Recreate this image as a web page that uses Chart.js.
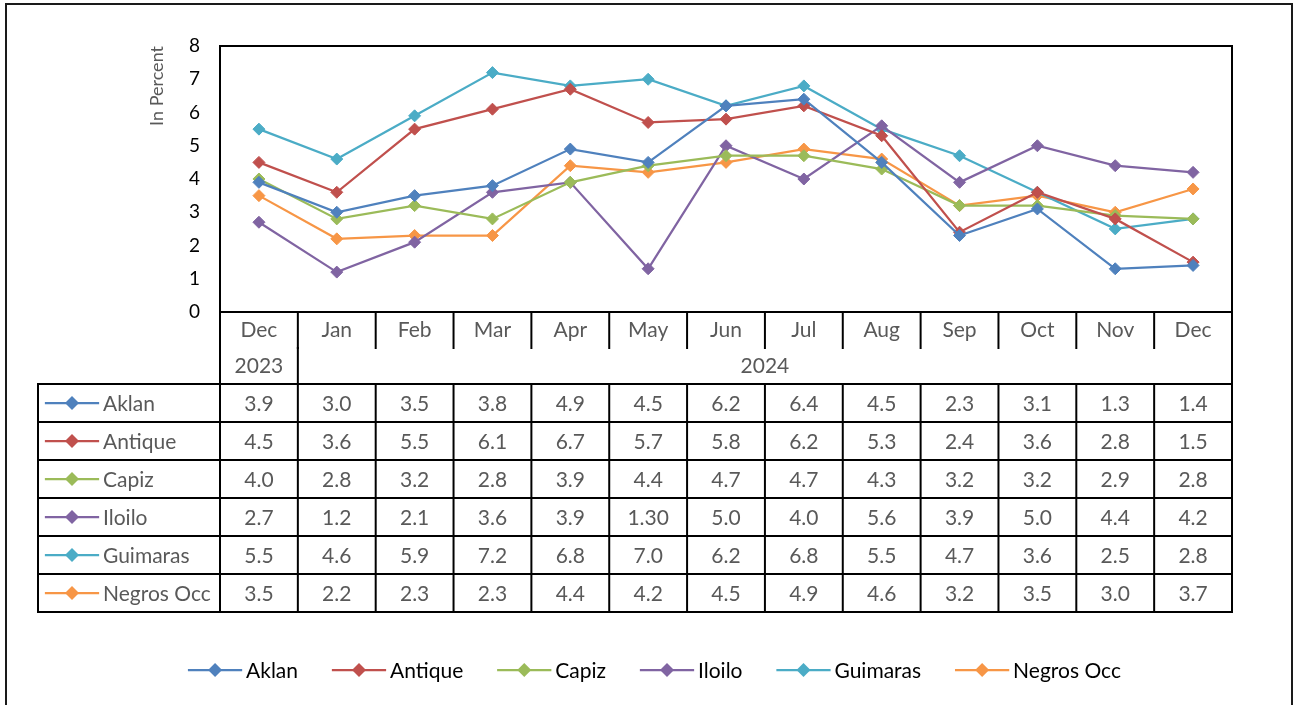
<!DOCTYPE html>
<html>
<head>
<meta charset="utf-8">
<script src="https://cdn.jsdelivr.net/npm/chart.js@4.4.1/dist/chart.umd.min.js"></script>
<style>
  html, body { margin: 0; padding: 0; background: #fff; }
  #wrap { width: 1295px; height: 705px; position: relative; }
</style>
</head>
<body>
<div id="wrap"><canvas id="chart" width="1295" height="705"></canvas></div>
<script>
// categories
const months = ['Dec', 'Jan', 'Feb', 'Mar', 'Apr', 'May', 'Jun', 'Jul', 'Aug', 'Sep', 'Oct', 'Nov', 'Dec'];
const yearLabels = ['2023', '2024'];
const yearSpans = [1, 12]; // how many month columns each year covers

// series (in percent)
const seriesNames = ['Aklan', 'Antique', 'Capiz', 'Iloilo', 'Guimaras', 'Negros Occ'];
const aklan     = [3.9, 3.0, 3.5, 3.8, 4.9, 4.5, 6.2, 6.4, 4.5, 2.3, 3.1, 1.3, 1.4];
const antique   = [4.5, 3.6, 5.5, 6.1, 6.7, 5.7, 5.8, 6.2, 5.3, 2.4, 3.6, 2.8, 1.5];
const capiz     = [4.0, 2.8, 3.2, 2.8, 3.9, 4.4, 4.7, 4.7, 4.3, 3.2, 3.2, 2.9, 2.8];
const iloilo    = [2.7, 1.2, 2.1, 3.6, 3.9, 1.3, 5.0, 4.0, 5.6, 3.9, 5.0, 4.4, 4.2];
const guimaras  = [5.5, 4.6, 5.9, 7.2, 6.8, 7.0, 6.2, 6.8, 5.5, 4.7, 3.6, 2.5, 2.8];
const negrosOcc = [3.5, 2.2, 2.3, 2.3, 4.4, 4.2, 4.5, 4.9, 4.6, 3.2, 3.5, 3.0, 3.7];
const seriesValues = [aklan, antique, capiz, iloilo, guimaras, negrosOcc];

// the data table prints this one cell differently
const tableTextOverrides = { 'Iloilo:5': '1.30' };

// y axis
const yTicks = [0, 1, 2, 3, 4, 5, 6, 7, 8];
const yTitle = 'In Percent';

const seriesColors = ['#4F81BD', '#C0504D', '#9BBB59', '#8064A2', '#4BACC6', '#F79646'];

const FONT = 'Lato, "Open Sans", sans-serif';
const GREY = '#595959';

function drawKey(ctx, x, y, color) {
  // short line with a diamond in the middle, like the excel legend key
  ctx.save();
  ctx.strokeStyle = color;
  ctx.lineWidth = 2.25;
  ctx.beginPath();
  ctx.moveTo(x, y);
  ctx.lineTo(x + 52, y);
  ctx.stroke();
  ctx.fillStyle = color;
  ctx.beginPath();
  ctx.moveTo(x + 26, y - 7);
  ctx.lineTo(x + 33, y);
  ctx.lineTo(x + 26, y + 7);
  ctx.lineTo(x + 19, y);
  ctx.closePath();
  ctx.fill();
  ctx.restore();
}

const tablePlugin = {
  id: 'dataTable',
  beforeDatasetsDraw(chart) {
    const { ctx, chartArea } = chart;
    ctx.save();
    ctx.strokeStyle = '#000';
    ctx.lineWidth = 2;
    ctx.strokeRect(chartArea.left, chartArea.top, chartArea.right - chartArea.left, chartArea.bottom - chartArea.top);
    ctx.restore();
  },
  afterDraw(chart) {
    const { ctx, chartArea } = chart;
    const xs = chart.scales.x;
    const colW = xs.getPixelForValue(1) - xs.getPixelForValue(0);
    const edge = i => xs.getPixelForValue(i) - colW / 2;
    const nCols = months.length;

    const monthTop = chartArea.bottom;
    const yearTop = monthTop + 36;
    const rowsTop = yearTop + 36;
    const rowH = 38;
    const rowsBottom = rowsTop + rowH * seriesNames.length;
    const keyLeft = chartArea.left - 182;

    ctx.save();
    ctx.strokeStyle = '#000';
    ctx.lineWidth = 2;
    ctx.lineCap = 'square';

    const line = (x1, y1, x2, y2) => {
      ctx.beginPath();
      ctx.moveTo(x1, y1);
      ctx.lineTo(x2, y2);
      ctx.stroke();
    };

    // outer chart frame
    ctx.save();
    ctx.strokeStyle = '#1a1a1a';
    line(6, 4, 1292, 4);
    line(6, 4, 6, 705);
    line(1292, 4, 1292, 705);
    ctx.restore();

    // month row separators
    for (let i = 1; i < nCols; i++) line(edge(i), monthTop, edge(i), yearTop);
    // year row separators
    let c = 0;
    yearSpans.forEach((span, k) => {
      if (k > 0) line(edge(c), yearTop, edge(c), rowsTop);
      c += span;
    });
    // outer verticals of the category block
    line(edge(0), monthTop, edge(0), rowsBottom);
    line(edge(nCols), monthTop, edge(nCols), rowsBottom);
    // value rows
    for (let r = 0; r <= seriesNames.length; r++) {
      line(keyLeft, rowsTop + r * rowH, edge(nCols), rowsTop + r * rowH);
    }
    line(keyLeft, rowsTop, keyLeft, rowsBottom);
    for (let i = 1; i < nCols; i++) line(edge(i), rowsTop, edge(i), rowsBottom);

    // texts
    ctx.font = '21px ' + FONT;
    ctx.fillStyle = GREY;
    ctx.textAlign = 'center';
    ctx.textBaseline = 'middle';
    months.forEach((m, i) => ctx.fillText(m, xs.getPixelForValue(i), monthTop + 18));
    c = 0;
    yearLabels.forEach((y, k) => {
      ctx.fillText(y, (edge(c) + edge(c + yearSpans[k])) / 2, yearTop + 18);
      c += yearSpans[k];
    });

    seriesNames.forEach((name, r) => {
      const cy = rowsTop + r * rowH + rowH / 2;
      drawKey(ctx, keyLeft + 8, cy, seriesColors[r]);
      ctx.fillStyle = GREY;
      ctx.textAlign = 'left';
      ctx.fillText(name, keyLeft + 65, cy + 1);
      ctx.textAlign = 'center';
      seriesValues[r].forEach((v, i) => {
        const txt = tableTextOverrides[name + ':' + i] || v.toFixed(1);
        ctx.fillText(txt, xs.getPixelForValue(i), cy + 1);
      });
    });

    // bottom legend
    ctx.fillStyle = '#000';
    ctx.textAlign = 'left';
    const widths = seriesNames.map(n => 57 + ctx.measureText(n).width);
    const gap = 35;
    const total = widths.reduce((a, b) => a + b, 0) + gap * (widths.length - 1);
    let lx = 655 - total / 2;
    const ly = 670;
    seriesNames.forEach((name, r) => {
      drawKey(ctx, lx, ly, seriesColors[r]);
      ctx.fillStyle = '#000';
      ctx.fillText(name, lx + 57, ly + 1);
      lx += widths[r] + gap;
    });
    ctx.restore();
  }
};

new Chart(document.getElementById('chart'), {
  type: 'line',
  data: {
    labels: months,
    datasets: seriesNames.map((name, i) => ({
      label: name,
      data: seriesValues[i],
      borderColor: seriesColors[i],
      backgroundColor: seriesColors[i],
      borderWidth: 2.25,
      pointStyle: 'rectRot',
      pointRadius: 6,
      pointHoverRadius: 6,
      pointBorderWidth: 1,
      tension: 0
    }))
  },
  options: {
    responsive: false,
    animation: false,
    layout: { padding: { left: 140, right: 63, top: 46, bottom: 393 } },
    plugins: { legend: { display: false }, tooltip: { enabled: false } },
    scales: {
      x: { display: false, offset: true },
      y: {
        min: yTicks[0],
        max: yTicks[yTicks.length - 1],
        afterBuildTicks: s => { s.ticks = yTicks.map(v => ({ value: v })); },
        afterFit: s => { s.width = 80; },
        grid: { display: false, drawTicks: false },
        border: { display: false },
        ticks: { padding: 20, color: '#000', font: { family: FONT, size: 19 } },
        title: { display: true, text: yTitle, align: 'end', color: GREY, padding: { top: 6, bottom: 0 }, font: { family: FONT, size: 18 } }
      }
    }
  },
  plugins: [tablePlugin]
});
</script>
</body>
</html>
